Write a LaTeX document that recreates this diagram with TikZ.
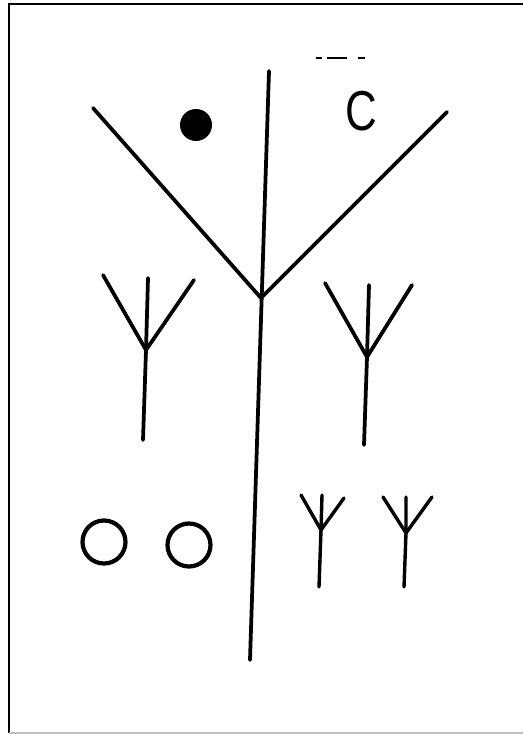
\documentclass[tikz,border=0pt]{standalone}
\usepackage{fontspec}
\setmainfont{Liberation Sans}

\begin{document}
\begin{tikzpicture}[
    x=0.03cm, y=-0.03cm,
    stroke/.style={line width=3.2pt, line cap=round, line join=round},
    thin stroke/.style={line width=2.9pt, line cap=round, line join=round},
    frame/.style={line width=2pt},
]
\useasboundingbox (0,0) rectangle (523,734);
% Frame
\draw[frame] (523,4) -- (9,4) -- (9,733);
\draw[line width=1.2pt, black!25] (9,733) -- (523,733);

% Main stem and V
\coordinate (top) at (269,71);
\coordinate (fork) at (261,298);
\coordinate (foot) at (250,660);
\draw[stroke] (top) -- (foot);
\draw[stroke] (93,108) -- (fork) -- (447,112);

% Dot and letter
\node[circle, fill=black, inner sep=0pt, minimum size=0.96cm] (dot) at (196,125) {};
\node[font=\fontsize{48}{48}\selectfont, xscale=0.78] (letter) at (361,111) {C};
\draw[line width=0.9pt] (316,58) -- (322,58) (327,58) -- (347,58) (358,58) -- (365,58);

% Large tridents
\coordinate (lj) at (146,350);
\draw[stroke] (103,275) -- (lj) -- (194,280);
\draw[stroke] (148,278) -- (lj) -- (143,440);
\coordinate (rj) at (367,357);
\draw[stroke] (325,283) -- (rj) -- (412,285);
\draw[stroke] (369,285) -- (rj) -- (364,445);

% Small tridents
\coordinate (sa) at (321,530);
\draw[thin stroke] (301,495) -- (sa) -- (344,498);
\draw[thin stroke] (322,495) -- (sa) -- (319,587);
\coordinate (sb) at (406,533);
\draw[thin stroke] (383,497) -- (sb) -- (432,497);
\draw[thin stroke] (406,497) -- (sb) -- (404,587);

% Circles
\node[circle, draw, line width=3.6pt, minimum size=1.29cm, inner sep=0pt] (ringa) at (104,542) {};
\node[circle, draw, line width=3.6pt, minimum size=1.29cm, inner sep=0pt] (ringb) at (189,545) {};
\end{tikzpicture}
\end{document}
